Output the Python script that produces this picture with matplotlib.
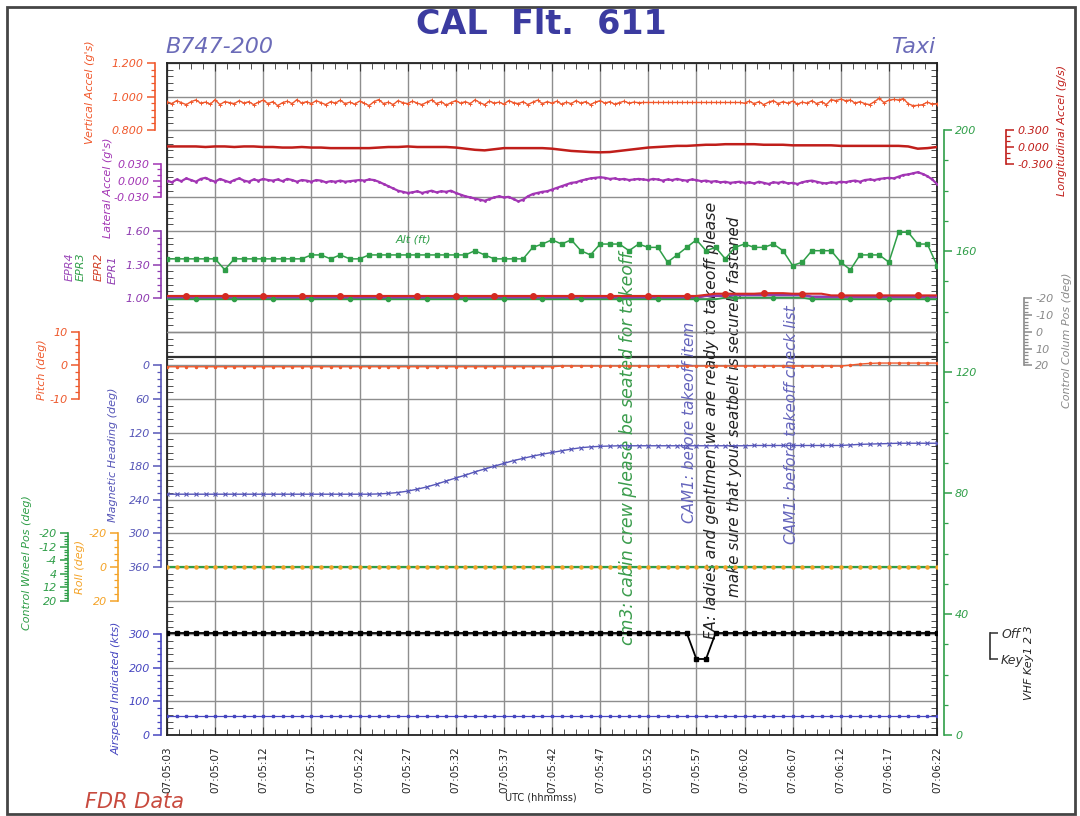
import numpy as np
import matplotlib
matplotlib.use("Agg")
import matplotlib.pyplot as plt
from matplotlib.patches import Rectangle

# ---- data ----
time_labels = ["07:05:03", "07:05:07", "07:05:12", "07:05:17", "07:05:22", "07:05:27",
               "07:05:32", "07:05:37", "07:05:42", "07:05:47", "07:05:52", "07:05:57",
               "07:06:02", "07:06:07", "07:06:12", "07:06:17", "07:06:22"]

t1 = np.arange(81)                 # 1 Hz samples, seconds from 07:05:03
t2 = np.linspace(0, 80, 161)       # 2 Hz samples

vert_accel = [0.970, 0.958, 0.976, 0.964, 0.952, 0.970, 0.980, 0.961, 0.967, 0.955,
              0.982, 0.952, 0.970, 0.964, 0.958, 0.976, 0.961, 0.970, 0.952, 0.967,
              0.979, 0.958, 0.970, 0.946, 0.964, 0.973, 0.958, 0.982, 0.961, 0.970,
              0.958, 0.976, 0.964, 0.952, 0.970, 0.961, 0.979, 0.958, 0.967, 0.955,
              0.973, 0.961, 0.946, 0.970, 0.982, 0.958, 0.967, 0.952, 0.976, 0.964,
              0.958, 0.973, 0.961, 0.952, 0.967, 0.980, 0.958, 0.970, 0.949, 0.964,
              0.976, 0.961, 0.970, 0.958, 0.981, 0.964, 0.952, 0.973, 0.961, 0.967,
              0.955, 0.976, 0.964, 0.958, 0.970, 0.952, 0.967, 0.979, 0.958, 0.970,
              0.961, 0.973, 0.955, 0.967, 0.958, 0.976, 0.961, 0.970, 0.952, 0.967,
              0.976, 0.961, 0.970, 0.955, 0.964, 0.973, 0.961, 0.967, 0.964, 0.965,
              0.965, 0.965, 0.965, 0.965, 0.965, 0.965, 0.965, 0.965, 0.965, 0.965,
              0.965, 0.965, 0.965, 0.965, 0.965, 0.965, 0.965, 0.965, 0.965, 0.965,
              0.961, 0.973, 0.958, 0.970, 0.952, 0.967, 0.976, 0.958, 0.970, 0.961,
              0.973, 0.955, 0.967, 0.961, 0.976, 0.958, 0.970, 0.952, 0.982, 0.976,
              0.985, 0.976, 0.980, 0.961, 0.970, 0.958, 0.952, 0.970, 0.990, 0.964,
              0.979, 0.983, 0.980, 0.988, 0.958, 0.946, 0.948, 0.952, 0.967, 0.955,
              0.958]

lat_accel = [0.000, -0.003, 0.002, -0.001, 0.004, 0.001, -0.002, 0.003, 0.005, 0.001,
             -0.002, 0.003, 0.000, -0.003, 0.001, 0.004, 0.000, -0.002, 0.002, 0.000,
             0.003, 0.001, 0.000, 0.002, -0.001, 0.003, 0.001, -0.002, 0.001, 0.000,
             -0.002, 0.001, 0.000, -0.003, -0.001, -0.002, 0.000, -0.002, -0.001, 0.000,
             0.001, 0.000, 0.002, 0.001, -0.002, -0.006, -0.010, -0.014, -0.018, -0.020,
             -0.022, -0.021, -0.019, -0.022, -0.020, -0.018, -0.021, -0.019, -0.020, -0.018,
             -0.022, -0.025, -0.028, -0.030, -0.032, -0.034, -0.036, -0.033, -0.030, -0.028,
             -0.030, -0.029, -0.033, -0.037, -0.034, -0.028, -0.024, -0.022, -0.020, -0.019,
             -0.016, -0.013, -0.010, -0.007, -0.004, -0.003, 0.000, 0.002, 0.004, 0.005,
             0.006, 0.005, 0.003, 0.004, 0.002, 0.003, 0.001, 0.002, 0.003, 0.002,
             0.001, 0.003, 0.002, 0.000, 0.002, 0.001, 0.003, 0.001, 0.000, 0.002,
             0.001, -0.001, 0.000, -0.002, -0.001, -0.003, -0.002, -0.004, -0.003, -0.002,
             -0.004, -0.003, -0.005, -0.002, -0.004, -0.006, -0.003, -0.004, -0.002, -0.005,
             -0.004, -0.006, -0.003, -0.001, 0.000, -0.002, -0.004, -0.005, -0.003, -0.004,
             -0.002, -0.003, -0.001, 0.000, -0.002, 0.001, 0.002, 0.001, 0.003, 0.004,
             0.005, 0.004, 0.007, 0.010, 0.011, 0.013, 0.015, 0.012, 0.008, 0.002,
             -0.006]

long_accel = [0.01, 0.01, 0.01, 0.01, 0.00, 0.01, 0.01, 0.00, 0.01, 0.01,
              0.00, 0.00, -0.01, -0.01, 0.00, -0.01, -0.01, -0.02, -0.02, -0.02,
              -0.02, -0.02, -0.01, 0.00, 0.00, 0.01, 0.00, 0.00, 0.00, 0.00,
              -0.01, -0.03, -0.05, -0.06, -0.04, -0.02, -0.02, -0.02, -0.02, -0.02,
              -0.03, -0.05, -0.07, -0.08, -0.09, -0.095, -0.09, -0.07, -0.05, -0.03,
              -0.01, 0.00, 0.01, 0.02, 0.02, 0.03, 0.04, 0.04, 0.05, 0.05,
              0.05, 0.05, 0.04, 0.04, 0.04, 0.03, 0.03, 0.03, 0.03, 0.03,
              0.02, 0.02, 0.02, 0.02, 0.02, 0.02, 0.02, 0.01, -0.03, -0.02,
              0.00]

epr1 = [1.005] * 56 + [1.02] * 3 + [1.03] * 8 + [1.015] * 14
epr2 = [1.02] * 56 + [1.03] + [1.04] * 5 + [1.045] * 3 + [1.04] * 4 + [1.025] * 12
epr3 = [0.99] * 58 + [1.005] * 9 + [0.99] * 14
epr4 = [1.00] * 56 + [1.025] * 11 + [1.01] * 14

altitude = ([157.4] * 6 + [153.8] + [157.4] * 8 +
            [158.7, 158.7, 157.4, 158.7, 157.4, 157.4] + [158.7] * 11 +
            [160.1, 158.7] + [157.4] * 4 + [161.2, 162.3] +
            [163.7, 162.3, 163.7, 160.1, 158.7, 162.3, 162.3, 162.3, 160.1, 162.3,
             161.2, 161.2, 156.3, 158.7, 161.2, 163.7, 160.1, 161.2, 157.4, 161.2,
             162.3, 161.2, 161.2, 162.3, 160.1, 155.2, 156.3, 160.1, 160.1, 160.1,
             156.3, 153.8, 158.7, 158.7, 158.7, 156.3, 166.2, 166.2, 162.3, 162.3,
             155.2])

pitch = [-0.4] * 41 + [-0.2] * 30 + [0.1, 0.4, 0.6] + [0.7] * 7

heading = ([230] * 22 +
           [229.5, 228.5, 227, 224.5, 221, 217, 212, 206.5, 201, 196, 190, 185, 180,
            175, 170, 166, 162, 158.5, 155.5, 152.5, 149.5, 147, 145.5, 144.5, 144] +
           [143.5] * 14 + [143] * 10 +
           [142, 141, 140.5, 140, 139.5, 139, 139, 139, 139, 139])

roll = [0.0] * 81
wheel = [0.0] * 81
column = [0.0] * 81
airspeed = [56.5] * 81
vhf_key = [1] * 55 + [0, 0] + [1] * 24

# ---- figure layout (pixel based) ----
W, H = 1080, 816
X0, X1, Y0, Y1 = 167, 937, 63, 735
NU = 20  # grid rows in the main frame


def fx(x):
    return x / W


def fy(y):
    return 1 - y / H


def u_of(y):
    return (Y1 - y) / (Y1 - Y0) * NU


fig = plt.figure(figsize=(10.8, 8.16), dpi=100)
fig.patches.append(Rectangle((fx(7), fy(814)), fx(1075) - fx(7), fy(7) - fy(814),
                             transform=fig.transFigure, fill=False,
                             edgecolor="#454545", linewidth=2))

ax = fig.add_axes([fx(X0), fy(Y1), (X1 - X0) / W, (Y1 - Y0) / H])
ax.set_xlim(0, 80)
ax.set_ylim(0, NU)


def param_axis(side, xpos, va, ua, vb, ub, color, majors, labels, minors):
    p = ax.twinx()
    slope = (vb - va) / (ub - ua)
    p.set_ylim(va - ua * slope, va + (NU - ua) * slope)
    for s in p.spines.values():
        s.set_visible(False)
    sp = p.spines[side]
    sp.set_visible(True)
    sp.set_position(("axes", (xpos - X0) / (X1 - X0)))
    sp.set_bounds(min(majors), max(majors))
    sp.set_color(color)
    sp.set_linewidth(1.2)
    if side == "left":
        p.yaxis.tick_left()
    else:
        p.yaxis.tick_right()
    p.set_yticks(majors)
    p.set_yticklabels(labels, fontstyle="italic", fontsize=8, color=color)
    p.set_yticks(minors, minor=True)
    p.tick_params(axis="y", which="both", direction="out", color=color, pad=2)
    p.tick_params(axis="y", which="major", length=6, width=1.1)
    p.tick_params(axis="y", which="minor", length=3, width=0.9)
    return p


c_vert = "#f0582c"
c_long = "#c01e1a"
c_lat = "#a235b4"
c_epr_p = "#8e3ab0"
c_green = "#2f9e48"
c_pitch = "#ee5a2e"
c_head = "#5656b8"
c_roll = "#f4a328"
c_air = "#4646c0"
c_col = "#8a8a8a"

# vertical accel
p = param_axis("left", 155, 0.8, 18, 1.2, 20, c_vert, [0.8, 1.0, 1.2],
               ["0.800", "1.000", "1.200"], np.arange(0.8, 1.2001, 0.04))
p.plot(t2, vert_accel, color=c_vert, lw=1.0, marker="+", ms=2.5, mew=0.7)

# longitudinal accel (right)
p = param_axis("right", 1006, -0.3, 17, 0.3, 18, c_long, [-0.3, 0.0, 0.3],
               ["-0.300", "0.000", "0.300"], np.arange(-0.3, 0.3001, 0.1))
p.plot(t1, long_accel, color=c_long, lw=1.8)

# lateral accel
p = param_axis("left", 161, -0.03, 16, 0.03, 17, c_lat, [-0.03, 0.0, 0.03],
               ["-0.030", "0.000", "0.030"], np.arange(-0.03, 0.0301, 0.01))
p.plot(t2, lat_accel, color=c_lat, lw=1.6, marker=".", ms=2)

# EPR
p = param_axis("left", 161, 1.0, 13, 1.6, 15, c_epr_p, [1.0, 1.3, 1.6],
               ["1.00", "1.30", "1.60"], np.arange(1.0, 1.6001, 0.06))
p.plot(t1, epr4, color="#9a46b8", lw=1.5)
p.plot(t1, epr1, color=c_epr_p, lw=1.5)
p.plot(t1, epr3, color=c_green, lw=1.3, marker="o", ms=3, markevery=(3, 4))
p.plot(t1, epr2, color="#d42a22", lw=1.5, marker="o", ms=4, markevery=(2, 4))

# control column (right, grey)
p = param_axis("right", 1024, -20, 13, 20, 11, c_col, [-20, -10, 0, 10, 20],
               ["-20", "-10", "0", "10", "20"], np.arange(-20, 20.1, 2))
p.plot(t1, column, color=c_col, lw=1.0)

# altitude (right green scale)
p = param_axis("right", 944, 0, 0, 200, u_of(130), c_green, [0, 40, 80, 120, 160, 200],
               ["0", "40", "80", "120", "160", "200"], np.arange(0, 200.1, 10))
p.plot(t1, altitude, color=c_green, lw=1.1, marker="s", ms=2.8)

# pitch
p = param_axis("left", 79, -10, 10, 10, 12, c_pitch, [-10, 0, 10],
               ["-10", "0", "10"], np.arange(-10, 10.1, 2))
p.plot(t1, pitch, color=c_pitch, lw=1.0, marker=".", ms=3)

# magnetic heading
p = param_axis("left", 161, 0, 11, 360, 5, c_head, [0, 60, 120, 180, 240, 300, 360],
               ["0", "60", "120", "180", "240", "300", "360"], np.arange(0, 360.1, 12))
p.plot(t1, heading, color=c_head, lw=1.0, marker="x", ms=2.5, mew=0.8)

# control wheel
p = param_axis("left", 68, -20, 6, 20, 4, c_green, [-20, -12, -4, 4, 12, 20],
               ["-20", "-12", "-4", "4", "12", "20"], np.arange(-20, 20.1, 1.6))
p.plot(t1, wheel, color=c_green, lw=1.6)

# roll
p = param_axis("left", 118, -20, 6, 20, 4, c_roll, [-20, 0, 20],
               ["-20", "0", "20"], np.arange(-20, 20.1, 4))
p.plot(t1, roll, color=c_roll, lw=0, marker="o", ms=2.2)

# airspeed
p = param_axis("left", 161, 0, 0, 300, 3, c_air, [0, 100, 200, 300],
               ["0", "100", "200", "300"], np.arange(0, 300.1, 20))
p.plot(t1, airspeed, color=c_air, lw=0.9, marker="s", ms=2)

# VHF keying (right bracket)
p = param_axis("right", 990, 0, u_of(659), 1, u_of(633), "#303030", [0, 1],
               ["Key", "Off"], [])
p.plot(t1, vhf_key, color="black", lw=1.3, marker="s", ms=3)
p.tick_params(axis="y", which="major", labelsize=9)

# ---- main frame, grid and ticks ----
ax.set_xticks(np.arange(0, 80.1, 5))
ax.set_xticklabels(time_labels, rotation=90, fontsize=7.5, color="#222222")
ax.set_xticks(np.arange(0, 80.1, 1.25), minor=True)
ax.set_yticks(np.arange(0, NU + 1))
ax.set_yticklabels([])
ax.set_yticks(np.arange(0, NU + 0.01, 0.2), minor=True)
ax.tick_params(which="both", direction="in", left=True, right=True, top=True,
               bottom=True, labelleft=False, labelright=False, color="#333333")
ax.tick_params(axis="x", which="major", length=6, pad=8)
ax.tick_params(axis="x", which="minor", length=4)
ax.tick_params(axis="y", which="major", length=0)
ax.tick_params(axis="y", which="minor", length=4)
ax.grid(True, which="major", color="#8e8e8e", lw=1.0)
ax.axhline(u_of(357), color="#303030", lw=1.6)
for s in ax.spines.values():
    s.set_color("#222222")
    s.set_linewidth(1.3)

# ---- annotations ----
ax.text(47.9, u_of(448), "cm3: cabin crew please be seated for takeoff", rotation=90,
        ha="center", va="center", fontsize=12.5, color="#3a9c4c", fontstyle="italic")
ax.text(54.3, u_of(422), "CAM1: before takeoff item", rotation=90,
        ha="center", va="center", fontsize=11, color="#6464bc", fontstyle="italic")
ax.text(56.6, u_of(420), "FA: ladies and gentlmen we are ready to takeoff please",
        rotation=90, ha="center", va="center", fontsize=11.3, color="#222222",
        fontstyle="italic")
ax.text(59.0, u_of(407), "make sure that your seatbelt is securely fastened",
        rotation=90, ha="center", va="center", fontsize=11, color="#222222",
        fontstyle="italic")
ax.text(64.9, u_of(425), "CAM1: before takeoff check list", rotation=90,
        ha="center", va="center", fontsize=11, color="#6464bc", fontstyle="italic")
ax.text(25.6, u_of(240), "Alt (ft)", ha="center", va="center",
        fontsize=8, color=c_green, fontstyle="italic")

# ---- titles and axis names ----
fig.text(fx(541), fy(25), "CAL  Flt.  611", ha="center", va="center",
         fontsize=24, fontweight="bold", color="#3b3ba0")
fig.text(fx(165), fy(47), "B747-200", ha="left", va="center", fontsize=16,
         fontstyle="italic", color="#6b6bb8")
fig.text(fx(935), fy(47), "Taxi", ha="right", va="center", fontsize=16,
         fontstyle="italic", color="#6b6bb8")
fig.text(fx(85), fy(802), "FDR Data", ha="left", va="center", fontsize=15,
         fontstyle="italic", color="#c84a3e")
fig.text(fx(541), fy(798), "UTC (hhmmss)", ha="center", va="center", fontsize=7,
         color="#222222")

side_labels = [
    (90, 92, "Vertical Accel (g's)", c_vert),
    (108, 188, "Lateral Accel (g's)", c_lat),
    (70, 267, "EPR4", "#9a46b8"),
    (81, 267, "EPR3", c_green),
    (99, 267, "EPR2", "#d03a22"),
    (113, 270, "EPR1", c_epr_p),
    (42, 370, "Pitch (deg)", c_pitch),
    (113, 455, "Magnetic Heading (deg)", c_head),
    (27, 563, "Control Wheel Pos (deg)", c_green),
    (80, 567, "Roll (deg)", c_roll),
    (117, 688, "Airspeed Indicated (kts)", c_air),
    (1062, 130, "Longitudinal Accel (g/s)", c_long),
    (1067, 340, "Control Colum Pos (deg)", c_col),
    (1029, 663, "VHF Key1 2 3", "#222222"),
]
for x, y, txt, col in side_labels:
    fig.text(fx(x), fy(y), txt, rotation=90, ha="center", va="center",
             fontsize=8, fontstyle="italic", color=col)

fig.savefig("out.png", dpi=100)
